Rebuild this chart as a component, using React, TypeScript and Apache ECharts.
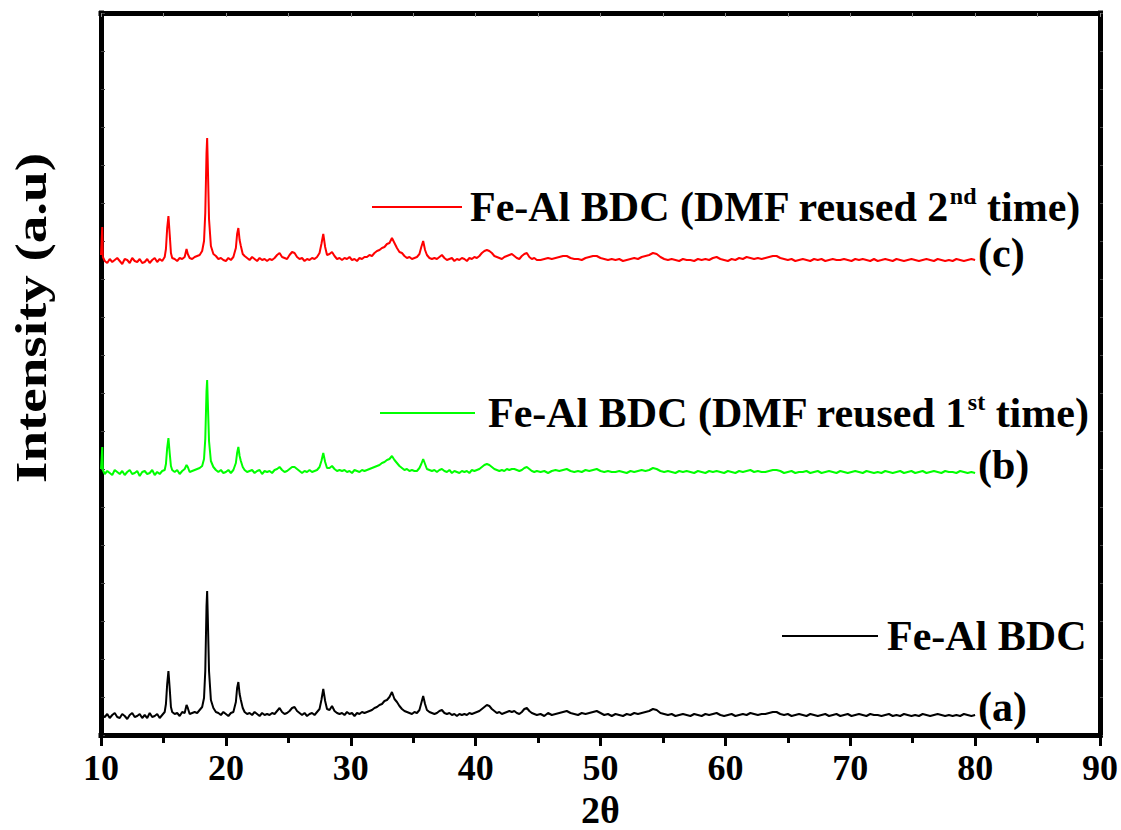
import React, { useEffect, useRef } from "react";
import * as echarts from "echarts";

// 2θ sampling grid (degrees)
const twoTheta: number[] = [
  10.0, 10.05, 10.1, 10.15, 10.3, 10.5, 10.7, 10.9, 11.1, 11.3,
  11.5, 11.7, 11.9, 12.1, 12.3, 12.5, 12.7, 12.9, 13.1, 13.3,
  13.5, 13.7, 13.9, 14.1, 14.3, 14.5, 14.7, 14.9, 15.1, 15.2,
  15.3, 15.4, 15.5, 15.6, 15.7, 15.9, 16.1, 16.3, 16.5, 16.7,
  16.85, 16.95, 17.1, 17.3, 17.5, 17.7, 17.9, 18.1, 18.25, 18.35,
  18.45, 18.5, 18.55, 18.65, 18.8, 19.0, 19.2, 19.4, 19.6, 19.8,
  20.0, 20.2, 20.4, 20.6, 20.8, 20.9, 21.0, 21.1, 21.2, 21.35,
  21.5, 21.7, 21.9, 22.1, 22.3, 22.5, 22.7, 22.9, 23.1, 23.3,
  23.5, 23.7, 23.9, 24.1, 24.3, 24.5, 24.7, 24.9, 25.1, 25.3,
  25.5, 25.7, 25.9, 26.1, 26.3, 26.5, 26.7, 26.9, 27.1, 27.3,
  27.5, 27.65, 27.8, 27.95, 28.1, 28.3, 28.5, 28.7, 28.9, 29.1,
  29.3, 29.5, 29.7, 29.9, 30.1, 30.3, 30.5, 30.7, 30.9, 31.1,
  31.3, 31.5, 31.7, 31.9, 32.1, 32.3, 32.5, 32.7, 32.9, 33.1,
  33.3, 33.5, 33.7, 33.9, 34.1, 34.3, 34.5, 34.7, 34.9, 35.1,
  35.3, 35.5, 35.65, 35.8, 35.95, 36.1, 36.3, 36.5, 36.7, 36.9,
  37.1, 37.3, 37.5, 37.7, 37.9, 38.1, 38.3, 38.5, 38.7, 38.9,
  39.1, 39.3, 39.5, 39.7, 39.9, 40.1, 40.3, 40.5, 40.7, 40.9,
  41.1, 41.3, 41.5, 41.7, 41.9, 42.1, 42.3, 42.5, 42.7, 42.9,
  43.1, 43.3, 43.5, 43.7, 43.9, 44.1, 44.3, 44.5, 44.7, 44.9,
  45.2, 45.5, 45.8, 46.1, 46.4, 46.7, 47.0, 47.3, 47.6, 47.9,
  48.2, 48.5, 48.8, 49.1, 49.4, 49.7, 50.0, 50.3, 50.6, 50.9,
  51.2, 51.5, 51.8, 52.1, 52.4, 52.7, 53.0, 53.3, 53.6, 53.9,
  54.2, 54.5, 54.8, 55.1, 55.4, 55.7, 56.0, 56.3, 56.6, 56.9,
  57.2, 57.5, 57.8, 58.1, 58.4, 58.7, 59.0, 59.3, 59.6, 59.9,
  60.2, 60.5, 60.8, 61.1, 61.4, 61.7, 62.0, 62.3, 62.6, 62.9,
  63.2, 63.5, 63.8, 64.1, 64.4, 64.7, 65.0, 65.3, 65.6, 65.9,
  66.2, 66.5, 66.8, 67.1, 67.4, 67.7, 68.0, 68.3, 68.6, 68.9,
  69.2, 69.5, 69.8, 70.1, 70.4, 70.7, 71.0, 71.3, 71.6, 71.9,
  72.2, 72.5, 72.8, 73.1, 73.4, 73.7, 74.0, 74.3, 74.6, 74.9,
  75.2, 75.5, 75.8, 76.1, 76.4, 76.7, 77.0, 77.3, 77.6, 77.9,
  78.2, 78.5, 78.8, 79.1, 79.4, 79.7, 80.0,
];

// (a) Fe-Al BDC — intensity above its own baseline (a.u.)
const intensityA: number[] = [
  1, -2, 3, 0, -1, 2, -2, 1, 3, -1,
  -2, 2, 0, -3, 1, 3, -1, 0, 2, -2,
  1, -2, 3, -1, 0, 2, -2, 1, 4, 12,
  32, 45, 28, 9, 4, 2, 3, 0, 4, 3,
  11, 8, 2, 3, 4, 3, 6, 9, 18, 45,
  110, 125, 100, 45, 16, 8, 4, 3, 1, 4,
  2, 0, 3, 4, 14, 28, 34, 22, 16, 8,
  4, 2, 3, 1, 4, 2, 0, 3, 1, 2,
  1, 3, 2, 5, 8, 4, 2, 3, 5, 8,
  9, 5, 3, 1, 3, 0, 2, 3, 1, 4,
  7, 16, 27, 15, 7, 6, 10, 5, 3, 2,
  3, 1, 4, 2, 3, 0, 3, 2, 4, 3,
  4, 5, 6, 8, 9, 11, 12, 15, 16, 19,
  24, 17, 14, 10, 7, 5, 4, 3, 2, 4,
  3, 6, 13, 20, 12, 6, 4, 3, 2, 3,
  5, 6, 3, 2, 3, 1, 2, 0, 2, 1,
  2, 1, 3, 2, 3, 4, 5, 7, 9, 11,
  10, 7, 5, 3, 4, 2, 3, 4, 5, 4,
  5, 3, 2, 4, 7, 8, 5, 3, 2, 1,
  2, 0, 3, 1, 2, 3, 4, 5, 3, 2,
  1, 3, 2, 3, 4, 5, 3, 1, 2, 0,
  2, 1, 0, 2, 1, 3, 2, 3, 4, 5,
  7, 6, 3, 2, 1, 2, 0, 1, 2, 1,
  0, 2, 1, 0, 2, 1, 2, 3, 1, 0,
  1, 2, 0, 1, 2, 1, 3, 2, 1, 2,
  2, 3, 4, 4, 2, 1, 2, 0, 1, 2,
  1, 0, 2, 1, 0, 1, 2, 0, 1, 2,
  0, 1, 2, 0, 1, 2, 1, 0, 2, 1,
  1, 0, 1, 2, 0, 1, 0, 2, 1, 0,
  1, 0, 2, 1, 0, 1, 2, 1, 0, 1,
  0, 1, 0, 2, 1, 0, 1,
];

// (b) Fe-Al BDC (DMF reused 1st time)
const intensityB: number[] = [
  4, 14, 26, 3, -1, 2, 0, -2, 3, 1,
  -1, 2, -2, 1, 3, -1, 0, 2, -3, 1,
  2, -1, 0, 3, -2, 1, -1, 2, 3, 9,
  25, 35, 20, 7, 3, 1, 3, -1, 2, 4,
  8, 6, 1, 2, 3, 4, 5, 7, 14, 34,
  82, 93, 72, 32, 12, 6, 3, 1, 3, 0,
  1, 3, 0, 3, 10, 20, 26, 17, 12, 6,
  3, 1, 2, 3, 0, 2, 3, -1, 2, 1,
  2, 0, 3, 4, 6, 3, 1, 2, 4, 6,
  6, 4, 2, 0, 2, 1, 3, 1, 2, 3,
  6, 12, 20, 11, 5, 5, 7, 4, 2, 3,
  2, 3, 1, 2, 0, 3, 2, 1, 3, 2,
  3, 4, 5, 6, 7, 8, 10, 11, 13, 14,
  17, 13, 10, 7, 5, 3, 4, 2, 3, 2,
  2, 5, 9, 14, 9, 4, 3, 2, 3, 1,
  3, 4, 2, 1, 3, 0, 2, 1, 0, 2,
  1, 2, 0, 3, 2, 3, 4, 6, 8, 9,
  8, 6, 4, 3, 2, 3, 2, 4, 3, 4,
  4, 3, 2, 3, 5, 6, 4, 2, 1, 2,
  1, 2, 0, 2, 3, 2, 3, 4, 2, 1,
  2, 1, 3, 2, 3, 4, 2, 1, 2, 1,
  1, 2, 1, 0, 2, 1, 2, 3, 2, 3,
  5, 4, 2, 1, 2, 1, 0, 2, 1, 2,
  1, 0, 2, 1, 0, 2, 1, 2, 1, 0,
  2, 1, 0, 2, 1, 2, 3, 1, 2, 1,
  1, 2, 3, 3, 2, 0, 1, 2, 0, 1,
  1, 2, 0, 1, 2, 0, 1, 2, 1, 0,
  2, 1, 0, 1, 2, 1, 0, 2, 1, 0,
  1, 0, 2, 1, 0, 1, 2, 0, 1, 2,
  0, 1, 2, 0, 1, 2, 1, 0, 2, 1,
  1, 0, 2, 1, 0, 1, 0,
];

// (c) Fe-Al BDC (DMF reused 2nd time)
const intensityC: number[] = [
  6, 20, 34, 4, 0, -2, 2, -1, 1, 3,
  0, -3, 2, 1, -2, 3, 0, -1, 2, -2,
  -1, 2, -2, 1, 3, -1, 2, 0, 4, 12,
  33, 45, 27, 8, 3, 2, 0, 3, 2, 4,
  12, 7, 3, 2, 4, 5, 6, 10, 20, 48,
  108, 123, 98, 42, 15, 7, 5, 2, 3, 1,
  0, 3, 1, 4, 13, 27, 33, 21, 15, 7,
  5, 3, 1, 4, 2, 0, 3, 1, 2, 0,
  2, 1, 3, 6, 8, 4, 3, 2, 6, 9,
  8, 4, 2, 3, 0, 2, 1, 3, 2, 4,
  8, 17, 27, 14, 6, 7, 9, 5, 2, 3,
  1, 3, 2, 4, 1, 2, 0, 3, 2, 4,
  4, 6, 5, 8, 10, 11, 13, 14, 17, 18,
  23, 18, 13, 9, 8, 5, 3, 4, 2, 3,
  4, 7, 14, 20, 11, 6, 3, 2, 3, 2,
  4, 6, 3, 1, 2, 3, 0, 2, 1, 3,
  2, 0, 3, 2, 4, 3, 5, 8, 10, 11,
  10, 8, 5, 4, 3, 2, 4, 5, 6, 7,
  5, 3, 2, 5, 7, 8, 4, 2, 3, 1,
  1, 2, 3, 2, 3, 4, 5, 5, 3, 2,
  2, 1, 3, 4, 5, 5, 3, 2, 1, 2,
  1, 2, 0, 1, 2, 3, 2, 4, 5, 6,
  8, 7, 4, 2, 1, 2, 1, 0, 2, 1,
  1, 0, 2, 1, 2, 1, 3, 4, 2, 1,
  0, 2, 1, 3, 2, 4, 3, 2, 3, 2,
  3, 4, 5, 5, 3, 2, 1, 2, 0, 1,
  2, 1, 0, 2, 1, 2, 0, 1, 2, 1,
  1, 2, 1, 0, 2, 1, 2, 1, 0, 2,
  0, 1, 2, 1, 0, 2, 1, 0, 1, 2,
  1, 0, 1, 2, 1, 0, 2, 1, 0, 1,
  0, 2, 1, 0, 1, 2, 1,
];

const seriesNames: string[] = [
  "Fe-Al BDC",
  "Fe-Al BDC (DMF reused 1st time)",
  "Fe-Al BDC (DMF reused 2nd time)",
];
// vertical offsets used to stack the patterns (a.u.)
const seriesOffsets: number[] = [19, 262, 474];
const seriesColors: string[] = ["#000000", "#00ff00", "#ff0000"];
const curveLabels: string[] = ["(a)", "(b)", "(c)"];
const xTicks = { min: 10, max: 90, interval: 10 };

const FONT = "'Liberation Serif', 'Times New Roman', serif";

export default function App() {
  const ref = useRef<HTMLDivElement>(null);

  useEffect(() => {
    if (!ref.current) return;
    const chart = echarts.init(ref.current, undefined, { renderer: "svg" });
    const profiles = [intensityA, intensityB, intensityC];

    const series = profiles.map((p, k) => ({
      name: seriesNames[k],
      type: "line",
      showSymbol: false,
      symbol: "none",
      data: twoTheta.map((x, i) => [x, p[i] + seriesOffsets[k]]),
      lineStyle: { color: seriesColors[k], width: 2 },
      itemStyle: { color: seriesColors[k] },
      z: 3,
    }));

    const richBase = {
      fontSize: 42,
      fontWeight: "bold",
      fontFamily: FONT,
      color: "#000",
      lineHeight: 46,
    };
    const richSup = {
      fontSize: 24,
      fontWeight: "bold",
      fontFamily: FONT,
      color: "#000",
      lineHeight: 26,
      verticalAlign: "top",
    };

    const labelCenters = [710, 468, 256];

    const option: any = {
      animation: false,
      backgroundColor: "#ffffff",
      grid: {
        left: 101,
        right: 21,
        top: 13,
        bottom: 95,
        containLabel: false,
        outerBoundsMode: "none",
      },
      legend: [
        {
          data: [seriesNames[2]],
          left: 372,
          top: 207 - 23,
          padding: 0,
          icon: "rect",
          itemWidth: 90,
          itemHeight: 2,
          selectedMode: false,
          formatter: () => "{p|Fe-Al BDC (DMF reused 2}{s|nd}{a| time)}",
          textStyle: {
            rich: { p: { ...richBase, padding: [0, 0, 0, 3] }, a: richBase, s: richSup },
          },
        },
        {
          data: [seriesNames[1]],
          left: 380,
          top: 413 - 23,
          padding: 0,
          icon: "rect",
          itemWidth: 95,
          itemHeight: 2,
          selectedMode: false,
          formatter: () => "{p|Fe-Al BDC (DMF reused 1}{s|st}{a| time)}",
          textStyle: {
            rich: { p: { ...richBase, padding: [0, 0, 0, 8] }, a: richBase, s: richSup },
          },
        },
        {
          data: [seriesNames[0]],
          left: 782,
          top: 638 - 23,
          padding: 0,
          icon: "rect",
          itemWidth: 96,
          itemHeight: 2,
          selectedMode: false,
          formatter: () => "{p|Fe-Al BDC}",
          textStyle: {
            rich: { p: { ...richBase, padding: [0, 0, 0, 4] } },
          },
        },
      ],
      xAxis: [
        {
          type: "value",
          position: "bottom",
          min: xTicks.min,
          max: xTicks.max,
          interval: xTicks.interval,
          name: "2θ",
          nameLocation: "middle",
          nameGap: 44,
          nameTextStyle: { fontSize: 38, fontWeight: "bold", fontFamily: FONT, color: "#000" },
          axisLine: { show: true, onZero: false, lineStyle: { color: "#000", width: 5, cap: "square" } },
          axisTick: { show: true, inside: false, length: 11, lineStyle: { color: "#000", width: 3 } },
          minorTick: { show: true, splitNumber: 2, length: 8, lineStyle: { color: "#000", width: 3 } },
          axisLabel: {
            show: true,
            margin: 15,
            fontSize: 36,
            fontWeight: "bold",
            fontFamily: FONT,
            color: "#000",
          },
          splitLine: { show: false },
        },
        {
          type: "value",
          position: "top",
          min: xTicks.min,
          max: xTicks.max,
          interval: 5,
          axisLine: { show: true, onZero: false, lineStyle: { color: "#000", width: 5, cap: "square" } },
          axisTick: { show: true, inside: true, length: 4, lineStyle: { color: "#888", width: 1 } },
          axisLabel: { show: false },
          splitLine: { show: false },
        },
      ],
      yAxis: [
        {
          type: "value",
          position: "left",
          min: 0,
          max: 722,
          interval: 38,
          axisLine: { show: true, onZero: false, lineStyle: { color: "#000", width: 5, cap: "square" } },
          axisTick: { show: true, inside: true, length: 4, lineStyle: { color: "#444", width: 1 } },
          axisLabel: { show: false },
          splitLine: { show: false },
        },
        {
          type: "value",
          position: "right",
          min: 0,
          max: 722,
          interval: 38,
          axisLine: { show: true, onZero: false, lineStyle: { color: "#000", width: 5, cap: "square" } },
          axisTick: { show: true, inside: false, length: 3, lineStyle: { color: "#444", width: 1 } },
          axisLabel: { show: false },
          splitLine: { show: false },
        },
      ],
      graphic: [
        {
          type: "text",
          x: 31,
          y: 318,
          rotation: Math.PI / 2,
          scaleX: 1.25,
          style: {
            text: "Intensity (a.u)",
            fontSize: 44,
            fontWeight: "bold",
            fontFamily: FONT,
            fill: "#000",
            align: "center",
            verticalAlign: "middle",
          },
          z: 10,
        },
        ...curveLabels.map((t, k) => ({
          type: "text",
          left: 978,
          top: labelCenters[k] - 24,
          style: {
            text: t,
            fontSize: 42,
            fontWeight: "bold",
            fontFamily: FONT,
            fill: "#000",
          },
          z: 10,
        })),
      ],
      series,
    };

    chart.setOption(option);
    return () => chart.dispose();
  }, []);

  return (
    <div
      ref={ref}
      style={{ position: "absolute", left: 0, top: 0, width: 1121, height: 830, background: "#fff" }}
    />
  );
}
